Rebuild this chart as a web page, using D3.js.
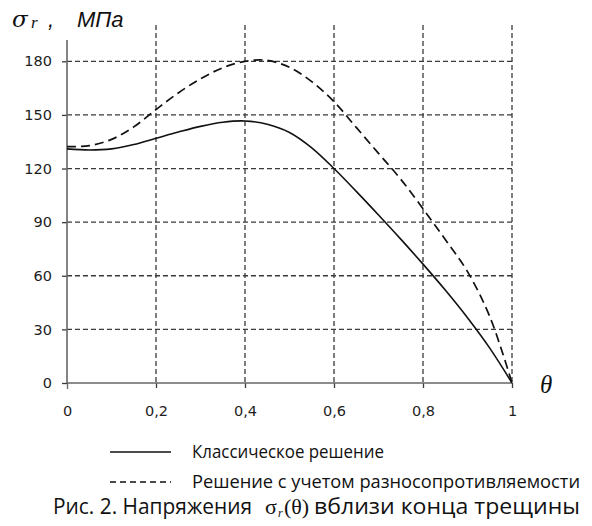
<!DOCTYPE html>
<html>
<head>
<meta charset="utf-8">
<script src="https://cdn.jsdelivr.net/npm/d3@7"></script>
<style>
  html, body { margin: 0; padding: 0; background: #fff; }
  svg { display: block; }
</style>
</head>
<body>
<svg id="chart" width="592" height="526"></svg>
<script>
// Angle values (fraction of the crack-tip sector) and radial stress σr, MPa
const theta = [0, 0.05, 0.1, 0.15, 0.2, 0.25, 0.3, 0.35, 0.4, 0.45, 0.5,
               0.55, 0.6, 0.65, 0.7, 0.75, 0.8, 0.85, 0.9, 0.95, 1];
const classical = [131.0, 130.4, 131.0, 133.4, 136.9, 140.4, 143.6, 145.9, 146.6, 144.8, 140.2,
                   131.6, 120.0, 107.2, 94.0, 80.5, 66.5, 52.0, 36.5, 19.5, 0];
const different = [132.3, 132.8, 136.3, 143.3, 153.0, 162.3, 170.2, 176.4, 180.0, 180.5, 176.6,
                   168.6, 157.4, 143.0, 128.5, 114.0, 97.5, 80.3, 62.3, 37.2, 0];

const xTicks = [0, 0.2, 0.4, 0.6, 0.8, 1];
const xTickLabels = ["0", "0,2", "0,4", "0,6", "0,8", "1"];
const yTicks = [0, 30, 60, 90, 120, 150, 180];

const legendLabels = ["Классическое решение", "Решение с учетом разносопротивляемости"];
const captionParts = ["Рис. 2. Напряжения", "вблизи конца трещины"];

const svg = d3.select("#chart");
const x = d3.scaleLinear().domain([0, 1]).range([67, 512]);
const y = d3.scaleLinear().domain([0, 180]).range([383, 61.3]);

const numFont = "'DejaVu Sans', Verdana, sans-serif";
const textFont = "'Open Sans', 'Noto Sans', sans-serif";
const serif = "'Liberation Serif', 'DejaVu Serif', serif";

// dashed grid
const grid = svg.append("g").attr("stroke", "#3a3a3a").attr("stroke-width", 1.3)
  .attr("stroke-dasharray", "5,3").attr("fill", "none");
grid.selectAll("line.v").data(xTicks.slice(1)).join("line")
  .attr("x1", d => x(d)).attr("x2", d => x(d))
  .attr("y1", 25).attr("y2", y(0));
grid.selectAll("line.h").data(yTicks.slice(1)).join("line")
  .attr("x1", x(0)).attr("x2", x(1))
  .attr("y1", d => y(d)).attr("y2", d => y(d));

// axes
const xAxis = svg.append("g").attr("transform", `translate(0,${y(0)})`)
  .call(d3.axisBottom(x).tickValues(xTicks).tickFormat((d, i) => xTickLabels[i])
    .tickSize(6).tickSizeOuter(0).tickPadding(17));
const yAxis = svg.append("g").attr("transform", `translate(${x(0)},0)`)
  .call(d3.axisLeft(y).tickValues(yTicks).tickSize(5).tickSizeOuter(0).tickPadding(10));

[xAxis, yAxis].forEach(a => {
  a.select(".domain").remove();
  a.selectAll(".tick line").attr("stroke", "#3a3a3a").attr("stroke-width", 1.3);
  a.selectAll(".tick text").attr("font-family", numFont).attr("font-size", 14.5)
    .attr("fill", "#1e1e1e");
});
xAxis.selectAll(".tick line").attr("stroke-dasharray", "5,3");
xAxis.selectAll(".tick").filter(d => d === 0).select("line").attr("stroke-dasharray", null)
  .attr("stroke", "#666");

// axis lines
svg.append("line").attr("x1", x(0)).attr("x2", x(0)).attr("y1", 40).attr("y2", y(0))
  .attr("stroke", "#666").attr("stroke-width", 1.6);
svg.append("line").attr("x1", x(0)).attr("x2", x(1)).attr("y1", y(0)).attr("y2", y(0))
  .attr("stroke", "#666").attr("stroke-width", 1.6);

// curves
const line = d3.line().x((d, i) => x(theta[i])).y(d => y(d)).curve(d3.curveCatmullRom.alpha(0.5));
svg.append("path").datum(classical).attr("d", line)
  .attr("fill", "none").attr("stroke", "#111").attr("stroke-width", 1.6);
svg.append("path").datum(different).attr("d", line)
  .attr("fill", "none").attr("stroke", "#111").attr("stroke-width", 1.7)
  .attr("stroke-dasharray", "9,5");

// axis titles
const yt = svg.append("text").attr("y", 27).attr("fill", "#111");
yt.append("tspan").attr("x", 12).attr("font-family", "'DejaVu Serif', serif").attr("font-style", "italic")
  .attr("font-size", 23).text("σ");
yt.append("tspan").attr("x", 31).attr("font-family", serif).attr("font-style", "italic")
  .attr("font-size", 17).attr("dy", 1).text("r");
yt.append("tspan").attr("font-family", "'Liberation Sans', Arial, sans-serif")
  .attr("font-style", "italic").attr("font-size", 22).attr("dy", -1).attr("x", 48).text(",");
yt.append("tspan").attr("font-family", "'Liberation Sans', Arial, sans-serif")
  .attr("font-style", "italic").attr("font-size", 22).attr("x", 77).text("МПа");

svg.append("text").attr("x", 540).attr("y", 393)
  .attr("font-family", serif).attr("font-style", "italic").attr("font-size", 25)
  .attr("fill", "#111").text("θ");

// legend
const legendY = [452, 482];
const legendW = [192, 388];
const lg = svg.append("g");
lg.selectAll("line").data(legendY).join("line")
  .attr("x1", 110).attr("x2", 171).attr("y1", d => d).attr("y2", d => d)
  .attr("stroke", "#111").attr("stroke-width", 1.5)
  .attr("stroke-dasharray", (d, i) => i ? "6,4" : null);
lg.selectAll("text").data(legendLabels).join("text")
  .attr("x", 192).attr("y", (d, i) => legendY[i] + 6)
  .attr("font-family", textFont).attr("font-size", 17.5).attr("fill", "#111")
  .attr("textLength", (d, i) => legendW[i]).attr("lengthAdjust", "spacingAndGlyphs")
  .text(d => d);

// caption
const capY = 514;
svg.append("text").attr("x", 53).attr("y", capY)
  .attr("font-family", textFont).attr("font-size", 21).attr("fill", "#111")
  .attr("textLength", 199).attr("lengthAdjust", "spacingAndGlyphs").text(captionParts[0]);
const cm = svg.append("text").attr("y", capY)
  .attr("font-family", serif).attr("font-size", 22).attr("fill", "#111");
cm.append("tspan").attr("x", 265).text("σ");
cm.append("tspan").attr("x", 278).attr("font-size", 12).attr("font-style", "italic").attr("dy", 3).text("r");
cm.append("tspan").attr("x", 284).attr("dy", -3).text("(θ)");
svg.append("text").attr("x", 314).attr("y", capY)
  .attr("font-family", textFont).attr("font-size", 21).attr("fill", "#111")
  .attr("textLength", 266).attr("lengthAdjust", "spacingAndGlyphs").text(captionParts[1]);
</script>
</body>
</html>
